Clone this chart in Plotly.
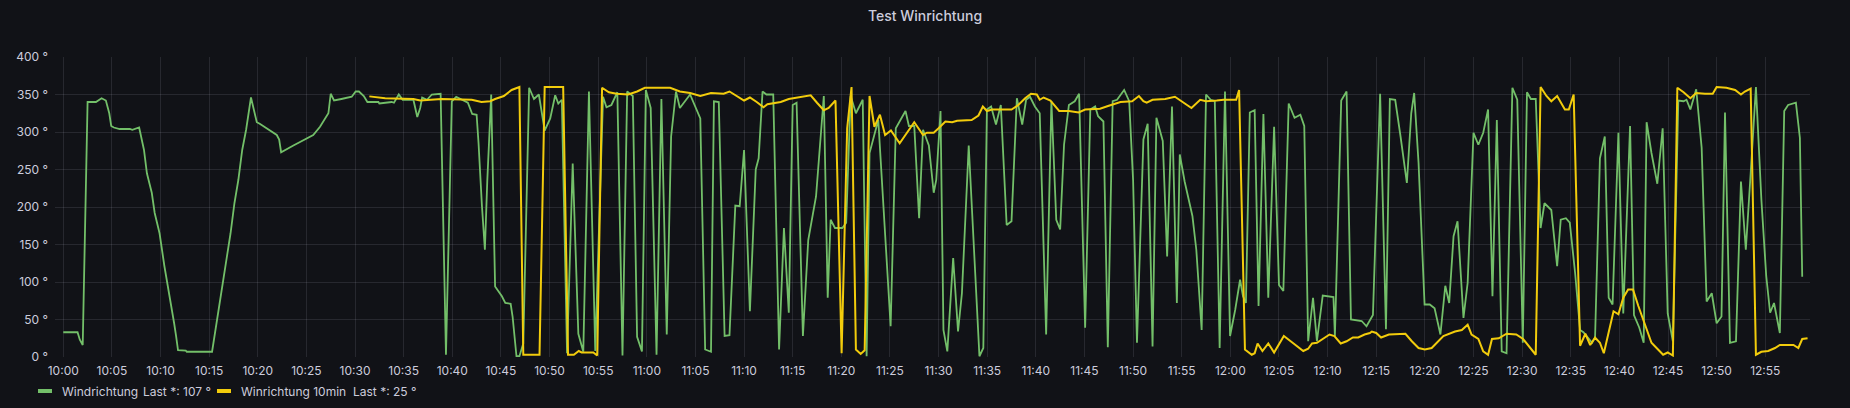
import pandas as pd
import plotly.graph_objects as go

# ---- data (minutes after 10:00, degrees) ----
green_min = [0.0, 1.47, 1.7, 2.0, 2.5, 3.36, 3.94, 4.38, 4.73, 4.93, 5.2, 5.8, 6.85, 7.1, 7.8, 8.3, 8.6, 9.1, 9.4, 9.9,
             10.4, 10.96, 11.4, 11.6, 11.8, 12.6, 12.7, 15.3, 15.6, 15.9, 16.4, 16.8, 17.2, 17.6, 18.0, 18.4, 18.8, 19.3,
             19.6, 19.9, 20.2, 21.95, 22.2, 22.4, 23.66, 25.03, 25.7, 26.4, 27.0, 27.26, 27.5, 27.84, 28.6, 29.66, 30.07,
             30.4, 30.9, 31.27, 32.4, 32.5, 33.77, 34.0, 34.5, 34.9, 36.0, 36.2, 36.4, 36.7, 36.9, 37.4, 37.9, 38.8,
             39.35, 39.95, 40.4, 41.6, 42.05, 42.5, 42.7, 43.05, 43.35, 43.6, 44.0, 44.4, 44.76, 45.1, 45.45, 46.0, 46.2,
             46.6, 46.9, 47.3, 47.9, 48.4, 48.9, 49.5, 50.07, 50.58, 50.9, 51.26, 51.8, 52.38, 52.96, 53.47, 54.05, 54.7,
             55.5, 55.85, 56.36, 56.97, 57.5, 57.98, 58.56, 59.0, 59.5, 59.9, 60.4, 61.0, 61.5, 62.05, 62.5, 63.0, 63.4,
             64.45, 65.5, 66.0, 66.6, 66.9, 67.4, 68.0, 68.5, 69.1, 69.55, 70.0, 70.6, 71.2, 71.5, 71.9, 72.3, 73.0,
             73.6, 74.1, 74.6, 75.0, 75.4, 76.05, 76.6, 77.4, 78.2, 78.6, 78.9, 79.35, 80.1, 80.5, 80.96, 81.5, 82.2,
             82.6, 82.9, 83.8, 85.07, 85.6, 86.6, 86.95, 87.5, 88.0, 88.4, 89.0, 89.5, 89.76, 90.2, 90.5, 90.9, 91.5,
             92.0, 92.4, 93.1, 93.6, 94.2, 94.6, 94.97, 95.4, 95.9, 96.4, 97.0, 97.5, 98.05, 98.6, 99.0, 99.4, 99.9,
             100.4, 101.06, 101.6, 102.1, 102.5, 102.9, 103.4, 104.0, 104.45, 105.07, 105.6, 106.1, 106.4, 106.95,
             107.4, 107.9, 108.35, 109.08, 109.6, 110.0, 110.4, 111.06, 111.5, 112.0, 112.4, 112.7, 113.05, 113.5,
             114.0, 114.5, 114.8, 115.3, 116.1, 116.5, 117.05, 117.5, 117.98, 118.4, 118.9, 119.45, 119.97, 120.5,
             121.0, 121.3, 121.6, 122.0, 122.5, 122.9, 123.4, 123.9, 124.5, 125.0, 125.45, 126.0, 126.6, 127.2, 127.6,
             128.0, 128.5, 128.9, 129.5, 130.6, 130.75, 131.4, 131.95, 132.4, 133.5, 134.0, 134.66, 135.4, 136.0,
             136.4, 136.95, 137.5, 138.15, 138.6, 138.9, 139.35, 139.97, 140.5, 141.0, 141.6, 142.1, 142.5, 142.95,
             143.36, 143.97, 144.4, 145.0, 145.5, 146.0, 146.5, 146.95, 147.4, 147.9, 148.4, 149.0, 149.5, 150.07,
             150.5, 150.9, 151.4, 151.9, 152.3, 153.0, 153.6, 153.97, 154.5, 154.9, 155.45, 155.96, 156.3, 156.8,
             157.2, 157.5, 158.0, 158.5, 158.9, 159.3, 159.9, 160.4, 161.1, 161.5, 162.05, 162.5, 162.8, 163.3, 163.9,
             164.45, 164.97, 165.5, 166.06, 166.6, 166.9, 167.3, 167.9, 168.46, 168.97, 169.5, 170.0, 170.5, 170.86,
             171.37, 171.99, 172.5, 173.0, 173.5, 174.04, 174.6, 175.1, 175.5, 175.9, 176.5, 176.95, 177.35, 178.15,
             178.56, 178.8]
green_val = [33, 33, 23, 16, 340, 340, 345, 342, 325, 308, 306, 304, 304, 303, 306, 276, 245, 219, 192, 165,
             121, 81, 45, 28, 9, 8.4, 7, 7, 32, 59, 96, 134, 165, 205, 236, 276, 303, 346,
             330, 313, 311, 296, 290, 273, 282, 291, 296, 307, 320, 325, 351, 342, 344, 347, 354,
             354, 348, 340, 340, 338, 340, 339, 350, 343, 343, 330, 320, 332, 346, 343, 350, 351,
             3, 341, 347, 339, 324, 323, 285, 201, 143, 236, 350, 94, 88, 81, 72, 71, 54,
             1, 1, 18, 359, 344, 350, 302, 318, 349, 338, 343, 5, 258, 31, 7, 354, 8,
             347, 333, 336, 353, 2, 354, 348, 27, 7.5, 356, 332, 3, 344, 30, 294, 354, 332,
             350, 318, 10, 7, 341, 340, 28, 29, 202, 201, 276, 61, 250, 265, 354, 350, 350,
             10, 172, 59, 336, 339, 28, 156, 214, 348, 79, 183, 172, 172, 179, 348, 325, 343,
             1, 272, 316, 41, 305, 328, 308, 308, 185, 303, 282, 219, 236, 328, 36, 7.5, 132,
             34, 85, 282, 148, 1, 12, 330, 334, 310, 336, 176, 181, 345, 310, 343, 347, 334,
             325, 30, 341, 183, 170, 283, 336, 341, 351, 39, 330, 334, 321, 314,
             13, 341, 343, 356, 341, 236, 19, 290, 311, 14, 319, 303, 288, 134,
             334, 72, 270, 234, 188, 143, 36, 350, 343, 341, 12, 354, 28, 63,
             103, 81, 72, 326, 329, 68, 324, 79, 307, 96, 88, 338, 319, 323, 308,
             21, 79, 21, 82, 80, 28, 342, 354, 50, 48, 41, 56, 351, 37,
             344, 343, 294, 232, 325, 352, 259, 70, 70, 65, 30, 95, 72, 161,
             181, 52, 99, 299, 283, 299, 330, 81, 316, 7.5, 5, 359, 343, 19,
             353, 344, 344, 172, 205, 196, 121, 183, 185, 179, 112, 36, 33, 25,
             19, 26, 265, 294, 79, 70, 299, 58, 308, 56, 39, 19, 313, 272, 231,
             305, 58, 21, 342, 341, 343, 330, 357, 279, 74, 85, 45, 54, 326,
             19, 21, 234, 143, 245, 360, 210, 108, 59, 72, 32, 328, 336, 339,
             292, 107]

yellow_min = [31.47, 33.1, 36.0, 36.7, 38.9, 40.8, 42.0, 43.0, 43.9, 44.4, 45.3, 46.1, 46.9, 47.3, 48.97, 49.5, 51.4,
              51.9, 52.5, 53.0, 53.3, 54.5, 54.9, 55.4, 56.1, 56.9, 58.1, 59.0, 59.8, 61.0, 62.4, 63.4, 64.45, 65.5,
              66.6, 67.9, 68.5, 70.0, 70.6, 71.3, 72.0, 72.4, 73.77, 74.6, 75.8, 76.85, 77.5, 78.2, 78.7, 79.4, 80.03,
              80.6, 81.05, 81.5, 81.99, 82.4, 82.9, 83.4, 83.97, 84.5, 85.1, 86.0, 87.5, 88.4, 88.8, 89.5, 90.0, 90.7,
              91.4, 91.9, 93.4, 94.1, 94.55, 94.97, 95.5, 97.5, 98.2, 98.9, 99.5, 100.1, 100.4, 100.8, 101.5, 102.4,
              103.4, 104.4, 105.07, 106.6, 107.5, 108.7, 109.9, 110.6, 111.06, 111.4, 112.0, 113.3, 114.3, 115.2,
              116.0, 116.9, 117.5, 118.6, 119.3, 120.6, 120.9, 121.5, 122.2, 122.5, 122.8, 123.3, 123.9, 124.5,
              125.5, 126.5, 127.5, 128.0, 128.4, 128.9, 130.2, 130.7, 131.35, 131.95, 132.6, 133.15, 133.8, 134.35,
              134.55, 135.0, 135.5, 136.3, 138.0, 138.66, 139.35, 140.0, 140.7, 141.9, 143.1, 143.8, 144.4, 144.8,
              145.5, 146.0, 146.5, 146.9, 147.6, 148.4, 149.4, 150.1, 150.8, 151.4, 151.9, 152.5, 153.0, 153.6,
              154.4, 154.8, 155.3, 155.96, 156.5, 157.0, 157.5, 158.0, 158.4, 158.9, 159.4, 159.9, 160.4, 160.9,
              161.4, 161.95, 162.6, 163.3, 163.9, 164.5, 164.97, 165.5, 165.96, 166.6, 167.3, 167.9, 168.8, 169.6,
              170.0, 171.0, 171.9, 172.5, 172.9, 173.5, 174.04, 174.6, 175.3, 176.0, 176.5, 177.9, 178.4, 178.8,
              179.35]
yellow_val = [347.5, 345, 344, 342, 344, 343, 343, 340, 341, 344, 348, 356, 360, 3, 3, 360, 360,
              3, 3, 8, 6, 6, 2, 359, 353, 351, 350, 354, 359, 359, 359, 354, 352, 348,
              352, 351, 354, 342, 346, 340, 333, 337, 340, 344, 347, 349, 339, 329, 332, 342, 5,
              305, 360, 10, 4, 9, 348, 307, 323, 296, 302, 285, 313, 296, 299, 299, 305, 314,
              313, 315, 316, 322, 334, 328, 330, 330, 336, 345, 351, 350, 343, 346, 342, 328,
              328, 326, 330, 331, 335, 340, 341, 348, 341, 339, 343, 344, 347, 339,
              332, 343, 341, 342, 343, 343, 356, 10, 3, 5, 18, 8, 18, 6,
              28, 18, 8, 11, 18, 19, 30, 28, 18, 21, 26, 26, 30, 32,
              34, 32, 26, 30, 31, 21, 12, 10, 12, 28, 34, 36, 43, 30,
              24, 7.5, 3, 24, 25, 31, 30, 24, 12, 3, 360, 348, 341, 348,
              330, 330, 350, 15, 31, 16, 26, 19, 5, 34, 61, 57, 79, 90,
              90, 68, 45, 19, 11, 3, 6, 2, 359, 353, 345, 352, 351, 351,
              360, 359, 356, 350, 354, 358, 3, 7, 8, 12, 16, 16, 12, 24,
              25]

y_ticks = [0, 50, 100, 150, 200, 250, 300, 350, 400]
y_unit = "°"
series_names = ["Windrichtung", "Winrichtung 10min"]
title_text = "Test Winrichtung"

base = pd.Timestamp("2024-01-01 10:00:00")
gx = [base + pd.Timedelta(minutes=m) for m in green_min]
yx = [base + pd.Timedelta(minutes=m) for m in yellow_min]

GREEN = "#73BF69"
YELLOW = "#F2CC0C"
BG = "#111217"
TXT = "#ccccdc"
GRID = "rgba(204,204,220,0.12)"
FONT = "Inter"

W, H = 1850, 408
ML, MR, MT, MB = 55, 40, 57, 51
PW, PH = W - ML - MR, H - MT - MB

fig = go.Figure()
fig.add_trace(go.Scatter(x=gx, y=green_val, mode="lines", name=series_names[0],
                         line=dict(color=GREEN, width=1.8)))
fig.add_trace(go.Scatter(x=yx, y=yellow_val, mode="lines", name=series_names[1],
                         line=dict(color=YELLOW, width=2)))

x0 = base + pd.Timedelta(seconds=-51)
x1 = base + pd.Timedelta(minutes=179.6)

def px_x(p):
    return (p - ML) / PW

def px_y(p):
    return (H - MB - p) / PH

# legend drawn as shapes + text
leg_y = 391
legend_items = [
    (GREEN, 38, 52, series_names[0], 60, f"Last *: {round(green_val[-1])} {y_unit}", 140.7),
    (YELLOW, 217, 231, series_names[1], 239.3, f"Last *: {round(yellow_val[-1])} {y_unit}", 350.7),
]
shapes = []
annotations = []
for col, a, b, name, tx, last, lx in legend_items:
    shapes.append(dict(type="line", xref="paper", yref="paper", x0=px_x(a), x1=px_x(b),
                       y0=px_y(leg_y), y1=px_y(leg_y), line=dict(color=col, width=4)))
    annotations.append(dict(text=name, xref="paper", yref="paper", x=px_x(tx), y=px_y(leg_y),
                            xanchor="left", yanchor="middle", showarrow=False,
                            font=dict(family=FONT, size=12, color=TXT)))
    annotations.append(dict(text=last, xref="paper", yref="paper", x=px_x(lx), y=px_y(leg_y),
                            xanchor="left", yanchor="middle", showarrow=False,
                            font=dict(family=FONT, size=12, color=TXT)))

fig.update_layout(
    width=W, height=H,
    margin=dict(l=ML, r=MR, t=MT, b=MB, pad=0),
    paper_bgcolor=BG, plot_bgcolor=BG,
    showlegend=False,
    title=dict(text=title_text, x=0.5, xanchor="center", y=1 - 15.7 / H, yanchor="middle",
               yref="container", font=dict(family=FONT, size=14, color=TXT, weight=500)),
    xaxis=dict(range=[x0, x1], type="date", tickformat="%H:%M", dtick=5 * 60 * 1000,
               tick0=base, showgrid=True, gridcolor=GRID, gridwidth=1, zeroline=False,
               showline=False, ticks="", ticklabelstandoff=5,
               tickfont=dict(family=FONT, size=12, color=TXT)),
    yaxis=dict(range=[0, 400], tickmode="array", tickvals=y_ticks,
               ticktext=[f"{v} {y_unit}" for v in y_ticks], showgrid=True, gridcolor=GRID,
               gridwidth=1, zeroline=False, showline=False, ticks="", ticklabelstandoff=6,
               tickfont=dict(family=FONT, size=12, color=TXT)),
    shapes=shapes, annotations=annotations,
)

fig.write_html("out.html")
